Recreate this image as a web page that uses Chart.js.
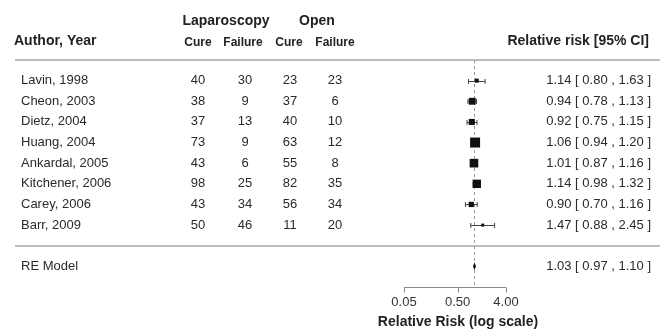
<!DOCTYPE html>
<html>
<head>
<meta charset="utf-8">
<script src="https://cdn.jsdelivr.net/npm/chart.js@4.4.1/dist/chart.umd.min.js"></script>
<style>
  html, body { margin: 0; padding: 0; background: #fff; }
  canvas { display: block; }
</style>
</head>
<body>
<canvas id="forest" width="664" height="329"></canvas>
<script>
(() => {
  const authors = [
    "Lavin, 1998", "Cheon, 2003", "Dietz, 2004", "Huang, 2004",
    "Ankardal, 2005", "Kitchener, 2006", "Carey, 2006", "Barr, 2009"
  ];
  const lapCure = [40, 38, 37, 73, 43, 98, 43, 50];
  const lapFailure = [30, 9, 13, 9, 6, 25, 34, 46];
  const openCure = [23, 37, 40, 63, 55, 82, 56, 11];
  const openFailure = [23, 6, 10, 12, 8, 35, 34, 20];
  const rr = [1.14, 0.94, 0.92, 1.06, 1.01, 1.14, 0.90, 1.47];
  const lower = [0.80, 0.78, 0.75, 0.94, 0.87, 0.98, 0.70, 0.88];
  const upper = [1.63, 1.13, 1.15, 1.20, 1.16, 1.32, 1.16, 2.45];
  const summary = { label: "RE Model", rr: 1.03, lower: 0.97, upper: 1.10 };
  const tickValues = [0.05, 0.5, 4];
  const tickLabels = ["0.05", "0.50", "4.00"];

  const FONT = "Arial, 'Liberation Sans', sans-serif";
  const COLORS = {
    text: "#222",
    rule: "#bdbdbd",
    axis: "#8a8a8a",
    dashed: "#9a9a9a",
    mark: "#111"
  };

  // study rows: first study at top (row 10) down to row 3, summary at row 1
  const rows = authors.map((_, i) => 10 - i);
  const summaryRow = 1;

  // square size from precision, like metafor does
  const invSe = lower.map((lo, i) => 3.92 / (Math.log(upper[i]) - Math.log(lo)));
  const minW = Math.min(...invSe);
  const maxW = Math.max(...invSe);
  const sides = invSe.map((w) => 3 + 7 * (w - minW) / (maxW - minW));

  const fmt = (v) => v.toFixed(2);
  const ciText = (m, lo, hi) => `${fmt(m)} [ ${fmt(lo)} , ${fmt(hi)} ]`;

  const forestPlugin = {
    id: "forestPlugin",
    beforeDatasetsDraw(chart) {
      const { ctx } = chart;
      const x = chart.scales.x;
      const y = chart.scales.y;
      const refX = x.getPixelForValue(1);

      ctx.save();
      // separators
      ctx.strokeStyle = COLORS.rule;
      ctx.lineWidth = 2;
      [11, 2].forEach((r) => {
        const py = Math.round(y.getPixelForValue(r));
        ctx.beginPath();
        ctx.moveTo(15, py);
        ctx.lineTo(660, py);
        ctx.stroke();
      });

      // reference line
      ctx.strokeStyle = COLORS.dashed;
      ctx.lineWidth = 1;
      ctx.setLineDash([3, 3]);
      ctx.beginPath();
      ctx.moveTo(Math.round(refX) + 0.5, y.getPixelForValue(11));
      ctx.lineTo(Math.round(refX) + 0.5, y.getPixelForValue(0));
      ctx.stroke();
      ctx.setLineDash([]);

      // whiskers
      ctx.strokeStyle = "#444";
      rows.forEach((r, i) => {
        const py = Math.round(y.getPixelForValue(r)) + 0.5;
        const x1 = x.getPixelForValue(lower[i]);
        const x2 = x.getPixelForValue(upper[i]);
        ctx.beginPath();
        ctx.moveTo(x1, py);
        ctx.lineTo(x2, py);
        ctx.moveTo(x1, py - 2.5);
        ctx.lineTo(x1, py + 2.5);
        ctx.moveTo(x2, py - 2.5);
        ctx.lineTo(x2, py + 2.5);
        ctx.stroke();
      });

      // summary diamond
      const sy = y.getPixelForValue(summaryRow);
      ctx.fillStyle = COLORS.mark;
      ctx.beginPath();
      ctx.moveTo(x.getPixelForValue(summary.lower), sy);
      ctx.lineTo(x.getPixelForValue(summary.rr), sy - 4);
      ctx.lineTo(x.getPixelForValue(summary.upper), sy);
      ctx.lineTo(x.getPixelForValue(summary.rr), sy + 4);
      ctx.closePath();
      ctx.fill();

      // axis
      const axisY = Math.round(y.getPixelForValue(0)) + 0.5;
      ctx.strokeStyle = COLORS.axis;
      ctx.beginPath();
      ctx.moveTo(x.getPixelForValue(tickValues[0]), axisY);
      ctx.lineTo(x.getPixelForValue(tickValues[tickValues.length - 1]), axisY);
      tickValues.forEach((v) => {
        const px = Math.round(x.getPixelForValue(v)) + 0.5;
        ctx.moveTo(px, axisY);
        ctx.lineTo(px, axisY + 5);
      });
      ctx.stroke();

      ctx.fillStyle = "#333";
      ctx.font = `13px ${FONT}`;
      ctx.textAlign = "center";
      ctx.textBaseline = "middle";
      tickValues.forEach((v, i) => {
        ctx.fillText(tickLabels[i], x.getPixelForValue(v), axisY + 15);
      });
      ctx.fillStyle = COLORS.text;
      ctx.font = `bold 14px ${FONT}`;
      ctx.fillText("Relative Risk (log scale)", 458, axisY + 35);

      // headers
      const h1 = y.getPixelForValue(13) + 2;
      const h2 = y.getPixelForValue(12) + 2;
      ctx.fillText("Laparoscopy", 226, h1);
      ctx.fillText("Open", 317, h1);
      ctx.textAlign = "left";
      ctx.fillText("Author, Year", 14, h2);
      ctx.textAlign = "right";
      ctx.fillText("Relative risk [95% CI]", 649, h2);
      ctx.textAlign = "center";
      ctx.font = `bold 12px ${FONT}`;
      [["Cure", 198], ["Failure", 243], ["Cure", 289], ["Failure", 335]].forEach(
        ([t, cx]) => ctx.fillText(t, cx, h2 + 1)
      );

      // table body
      ctx.font = `13px ${FONT}`;
      ctx.fillStyle = "#2a2a2a";
      rows.forEach((r, i) => {
        const py = y.getPixelForValue(r);
        ctx.textAlign = "left";
        ctx.fillText(authors[i], 21, py);
        ctx.textAlign = "center";
        ctx.fillText(String(lapCure[i]), 198, py);
        ctx.fillText(String(lapFailure[i]), 245, py);
        ctx.fillText(String(openCure[i]), 290, py);
        ctx.fillText(String(openFailure[i]), 335, py);
        ctx.textAlign = "right";
        ctx.fillText(ciText(rr[i], lower[i], upper[i]), 651, py);
      });
      ctx.textAlign = "left";
      ctx.fillText(summary.label, 21, sy);
      ctx.textAlign = "right";
      ctx.fillText(ciText(summary.rr, summary.lower, summary.upper), 651, sy);

      ctx.restore();
    }
  };

  new Chart(document.getElementById("forest"), {
    type: "scatter",
    data: {
      datasets: [
        {
          data: rr.map((v, i) => ({ x: v, y: rows[i] })),
          pointStyle: "rect",
          pointRadius: sides.map((s) => s / Math.SQRT2),
          backgroundColor: COLORS.mark,
          borderWidth: 0,
          clip: false
        }
      ]
    },
    options: {
      responsive: false,
      animation: false,
      events: [],
      layout: { padding: { left: 404, right: 158, top: 60, bottom: 42 } },
      plugins: { legend: { display: false }, tooltip: { enabled: false } },
      scales: {
        x: { type: "logarithmic", min: 0.05, max: 4, display: false },
        y: { type: "linear", min: 0, max: 11, display: false }
      }
    },
    plugins: [forestPlugin]
  });
})();
</script>
</body>
</html>
